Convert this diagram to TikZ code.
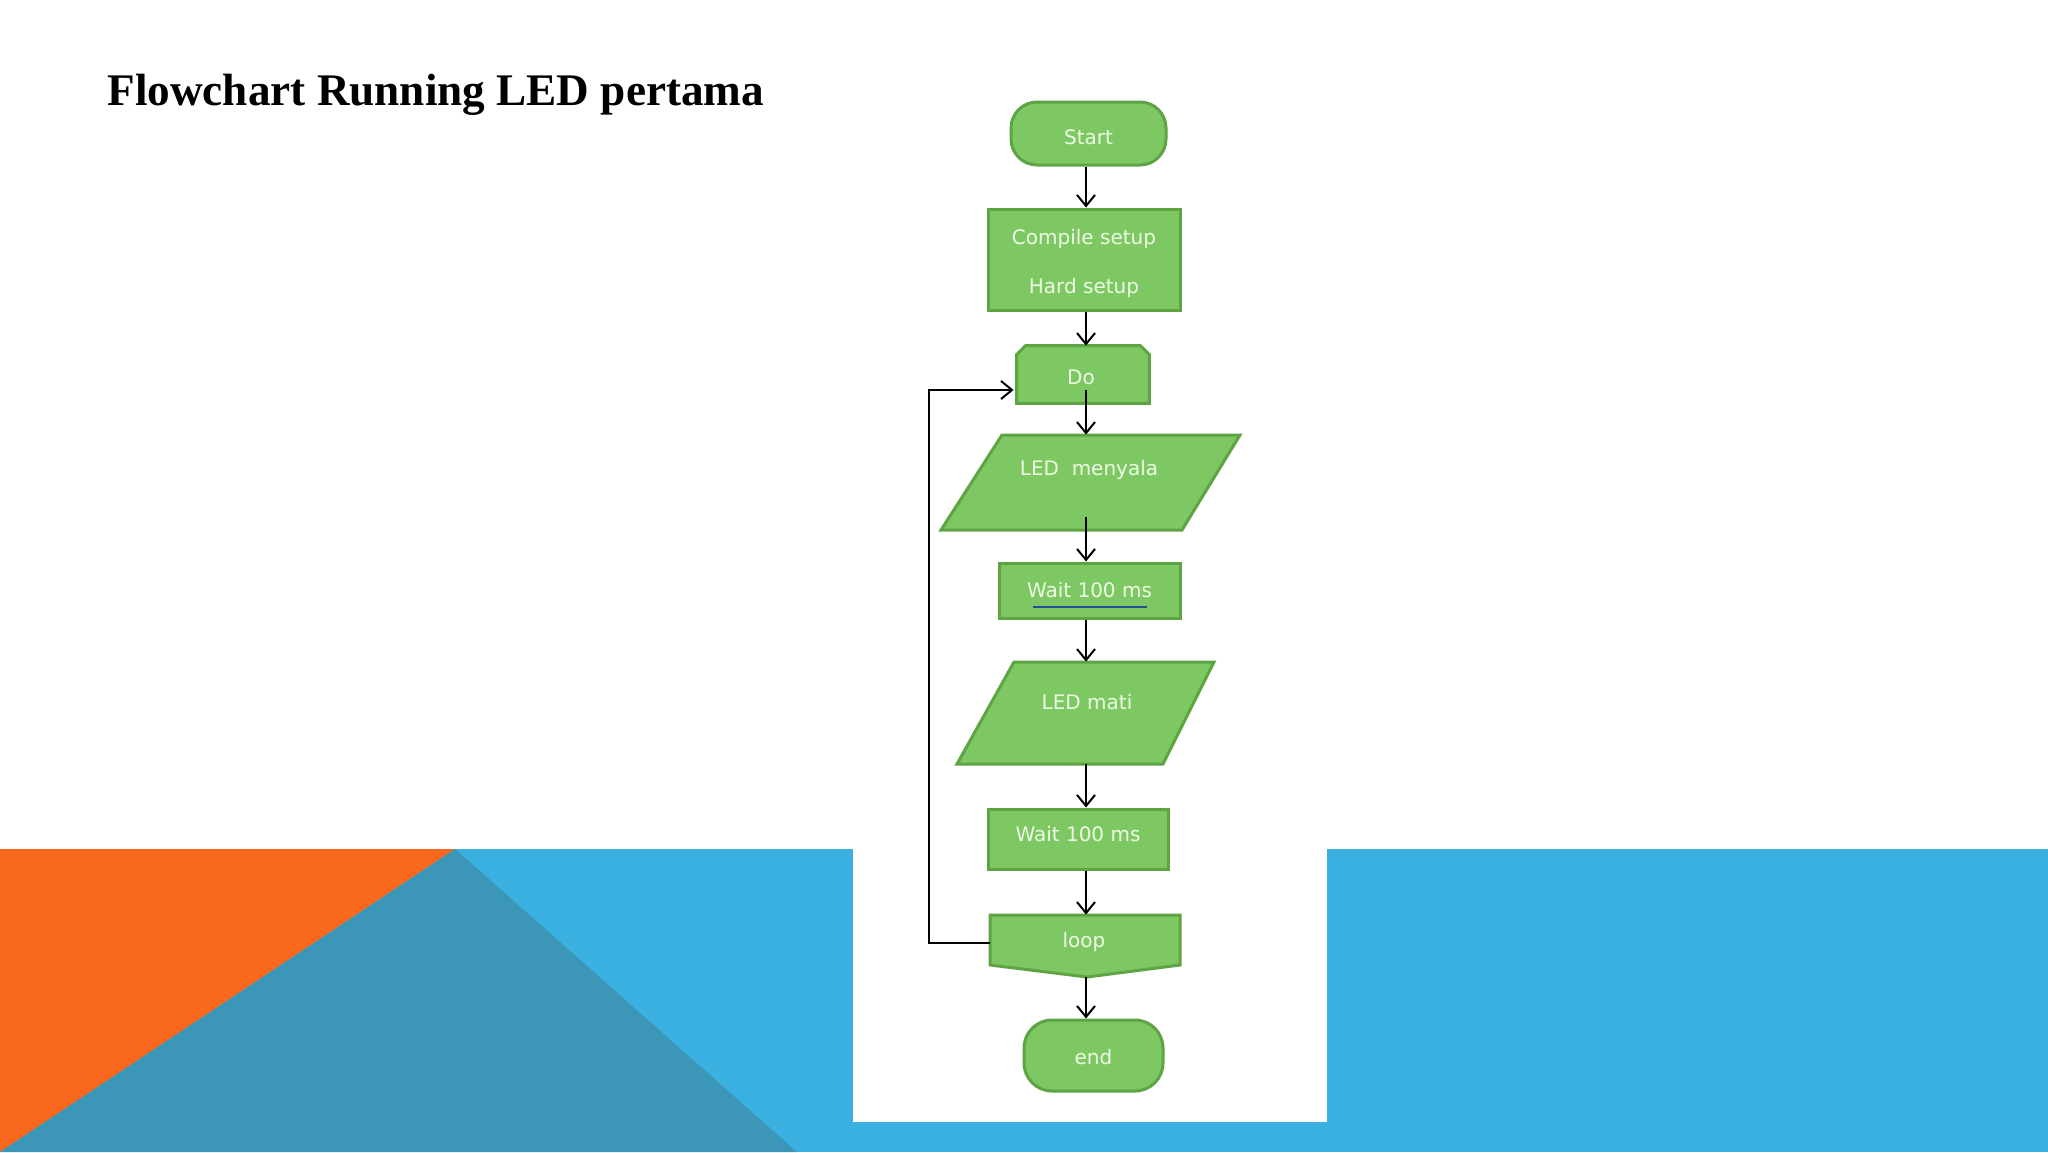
\documentclass[tikz,border=0pt]{standalone}
\usepackage{fontspec}
\usepackage{graphicx}
\setmainfont{Liberation Serif}
\newfontfamily\flowfont{DejaVu Sans}
\usetikzlibrary{arrows.meta,calc}
\definecolor{fcfill}{RGB}{125,200,98}
\definecolor{fcborder}{RGB}{94,164,68}
\definecolor{fctext}{RGB}{238,251,228}
\definecolor{bandblue}{RGB}{59,177,225}
\definecolor{bandteal}{RGB}{60,150,184}
\definecolor{bandorange}{RGB}{250,104,30}
\definecolor{ulblue}{RGB}{30,80,150}
\begin{document}
\begin{tikzpicture}[x=0.5pt,y=-0.5pt,
  fc/.style={draw=fcborder, line width=1.5pt, fill=fcfill, text=fctext,
             font=\flowfont\fontsize{10}{12}\selectfont, inner sep=0pt},
  ghost/.style={inner sep=0pt, draw=none},
  shp/.style={draw=fcborder, line width=1.5pt, fill=fcfill, line join=miter},
  lbl/.style={text=fctext, font=\flowfont\fontsize{10}{12}\selectfont, inner sep=0pt},
  arr/.style={draw=black, line width=1pt, -{Straight Barb[length=5.5pt,width=9pt]}}]
\useasboundingbox (0,0) rectangle (2048,1152);
% background
\fill[white] (0,0) rectangle (2048,1152);
\fill[bandblue] (0,849) rectangle (2048,1152);
\fill[bandorange] (0,849) -- (455,849) -- (0,1152) -- cycle;
\fill[bandteal] (455,849) -- (797,1152) -- (0,1152) -- cycle;
\fill[white] (853,60) rectangle (1327,1122);
% title
\node[anchor=base west, inner sep=0pt, font=\bfseries\fontsize{22.6}{27}\selectfont] (title) at (107,105) {Flowchart Running LED pertama};
% Start
\node[fc, rounded corners=13pt, minimum width=77.5pt, minimum height=31.5pt] (start) at (1088.5,133.5) {};
\node[lbl] (startlbl) at ($(start)+(0,3.5)$) {Start};
% Compile / Hard setup
\node[fc, minimum width=96pt, minimum height=50.5pt] (compile) at (1084,259.5) {};
\node[lbl, align=center] (compilelbl) at ($(compile)+(0,4)$) {Compile setup\\[12.5pt]Hard setup};
% Do (chamfered top corners)
\node[ghost, minimum width=66pt, minimum height=28.5pt] (do) at (1083,374.5) {};
\draw[shp] (do.south west) -- ($(do.north west)+(0,9)$) -- ($(do.north west)+(9,0)$)
  -- ($(do.north east)+(-9,0)$) -- ($(do.north east)+(0,9)$) -- (do.south east) -- cycle;
\node[lbl] (dolbl) at ($(do)+(-2,2.5)$) {Do};
% LED menyala
\node[ghost, minimum width=149.5pt, minimum height=47.5pt] (men) at (1090.5,482.5) {};
\draw[shp] ($(men)+(-88.5,-47.5)$) -- ($(men)+(149.5,-47.5)$) -- ($(men)+(91.5,47.5)$) -- ($(men)+(-149.5,47.5)$) -- cycle;
\node[lbl] (menlbl) at ($(men)+(-1.5,-13)$) {LED~~menyala};
% Wait 1
\node[fc, minimum width=90.5pt, minimum height=27.5pt] (wait1) at (1089.5,590.5) {Wait 100 ms};
\draw[ulblue, line width=1pt] ($(wait1)+(-56.5,16.5)$) -- ($(wait1)+(57.5,16.5)$);
% LED mati
\node[ghost, minimum width=128.5pt, minimum height=51pt] (mati) at (1085.5,713) {};
\draw[shp] ($(mati)+(-71.5,-51)$) -- ($(mati)+(128.5,-51)$) -- ($(mati)+(77.5,51)$) -- ($(mati)+(-128.5,51)$) -- cycle;
\node[lbl] (matilbl) at ($(mati)+(1.5,-11)$) {LED mati};
% Wait 2
\node[fc, minimum width=90pt, minimum height=30pt] (wait2) at (1078,839) {};
\node[lbl] (wait2lbl) at ($(wait2)+(0,-5)$) {Wait 100 ms};
% loop
\node[ghost, minimum width=95pt, minimum height=31pt] (loop) at (1085,946) {};
\draw[shp] ($(loop)+(-95,-31)$) -- ($(loop)+(95,-31)$) -- ($(loop)+(95,19)$) -- ($(loop)+(2,31)$) -- ($(loop)+(-95,19)$) -- cycle;
\node[lbl] (looplbl) at ($(loop)+(-1,-4)$) {loop};
% end
\node[fc, rounded corners=14pt, minimum width=69.5pt, minimum height=35.5pt] (stop) at (1093.5,1055.5) {};
\node[lbl] (stoplbl) at ($(stop)+(0,2)$) {end};
% connectors
\coordinate (col) at (1086,0);
\draw[arr] (col |- start.south) -- (col |- compile.north);
\draw[arr] (col |- compile.south) -- (col |- do.north);
\draw[arr] ($(col |- do.south)+(0,-13)$) -- (col |- men.north);
\draw[arr] ($(col |- men.south)+(0,-13)$) -- (col |- wait1.north);
\draw[arr] (col |- wait1.south) -- (col |- mati.north);
\draw[arr] (col |- mati.south) -- (col |- wait2.north);
\draw[arr] (col |- wait2.south) -- (col |- loop.north);
\draw[arr] (col |- loop.south) -- (col |- stop.north);
% loop back
\coordinate (back) at (929,0);
\coordinate (lbA) at ($(loop.west)+(0,-3)$);
\coordinate (lbB) at ($(do.west)+(-3,15.5)$);
\draw[arr] (lbA) -- (back |- lbA) -- (back |- lbB) -- (lbB);
\end{tikzpicture}
\end{document}
